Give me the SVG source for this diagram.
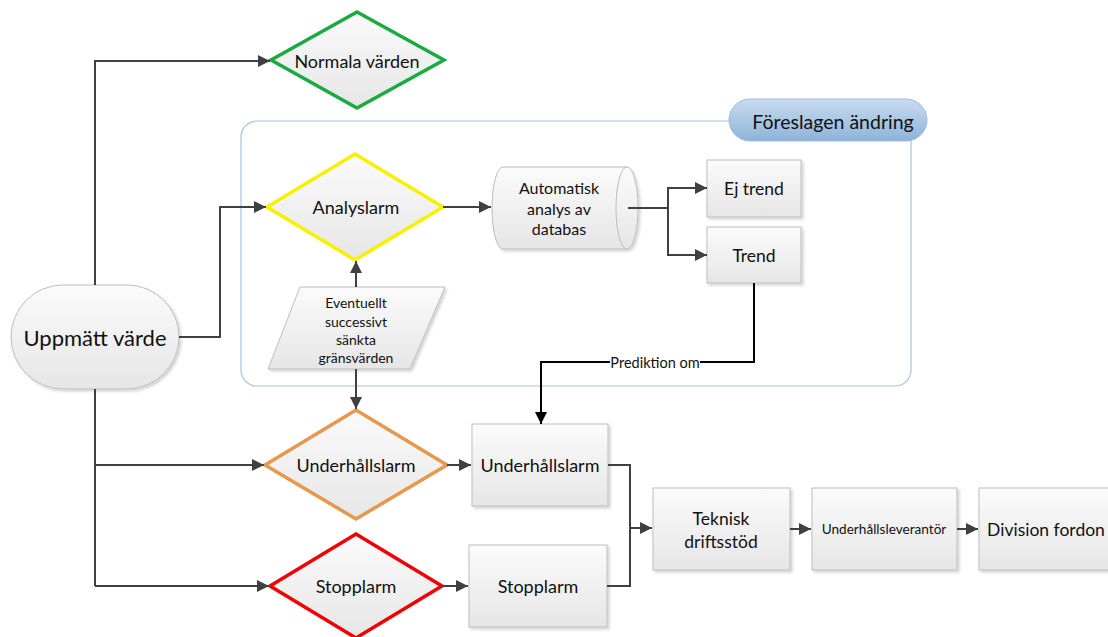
<svg xmlns="http://www.w3.org/2000/svg" width="1108" height="637" viewBox="0 0 1108 637">
<defs>
<linearGradient id="gBox" x1="0" y1="0" x2="0" y2="1"><stop offset="0" stop-color="#fbfbfb"/><stop offset="1" stop-color="#e6e6e6"/></linearGradient>
<linearGradient id="gPill" x1="0" y1="0" x2="0" y2="1"><stop offset="0" stop-color="#c9dcef"/><stop offset="1" stop-color="#8db3d9"/></linearGradient>
<filter id="sh" x="-10%" y="-10%" width="130%" height="130%"><feDropShadow dx="2" dy="2" stdDeviation="1.5" flood-color="#000" flood-opacity="0.18"/></filter>
<marker id="ah" viewBox="0 0 10 10" refX="10" refY="5" markerWidth="12" markerHeight="12" markerUnits="userSpaceOnUse" orient="auto"><path d="M0,0 L10,5 L0,10 Z" fill="#404040"/></marker>
<marker id="ahb" viewBox="0 0 10 10" refX="10" refY="5" markerWidth="12" markerHeight="12" markerUnits="userSpaceOnUse" orient="auto"><path d="M0,0 L10,5 L0,10 Z" fill="#000"/></marker>
</defs>
<style>
.box{fill:url(#gBox);stroke:#bdbdbd;stroke-width:1;filter:url(#sh)}
.dia{fill:url(#gBox);stroke-width:3.5;stroke-linejoin:miter}
.t{font-family:Lato,"Liberation Sans",sans-serif;fill:#111;text-anchor:middle;dominant-baseline:central}
.c{fill:none;stroke:#404040;stroke-width:2;marker-end:url(#ah)}
.cn{fill:none;stroke:#404040;stroke-width:2}
</style>
<rect width="1108" height="637" fill="#fff"/>

<g id="container">
<rect x="241" y="121" width="670" height="265" rx="16" fill="none" stroke="#a9c3dc" stroke-width="1.2"/>
<rect x="729" y="99" width="198" height="42" rx="21" fill="url(#gPill)" stroke="#9cbcdc" stroke-width="1"/>
<text class="t" x="833" y="121" font-size="19.5">Föreslagen ändring</text>
</g>

<g id="normala">
<polygon class="dia" points="357,12 444,60 357,108 271,60" stroke="#1aab40"/>
<text class="t" x="357" y="61" font-size="18">Normala värden</text>
</g>

<g id="analyslarm">
<polygon class="dia" points="355,154 443,207 355,260 267,207" stroke="#f7f000"/>
<text class="t" x="356" y="207" font-size="18">Analyslarm</text>
</g>

<g id="automatisk">
<path class="box" d="M503,167 H627 A11,41 0 0 1 627,249 H503 A11,41 0 0 1 503,167 Z"/>
<path d="M627,167 A11,41 0 0 0 627,249" fill="none" stroke="#bdbdbd" stroke-width="1"/>
<text class="t" font-size="16"><tspan x="559" y="187">Automatisk</tspan><tspan x="559" y="208">analys av</tspan><tspan x="559" y="228">databas</tspan></text>
</g>

<g id="ejtrend">
<rect class="box" x="707" y="160" width="94" height="57"/>
<text class="t" x="754" y="188" font-size="17.5">Ej trend</text>
</g>

<g id="trend">
<rect class="box" x="707" y="227" width="94" height="56"/>
<text class="t" x="754" y="255" font-size="17.5">Trend</text>
</g>

<g id="uppmatt">
<rect class="box" x="11" y="285" width="168" height="104" rx="52"/>
<text class="t" x="95" y="337" font-size="22">Uppmätt värde</text>
</g>

<g id="eventuellt">
<polygon class="box" points="300,287 445,287 410,369 268,369"/>
<text class="t" font-size="14"><tspan x="356" y="302">Eventuellt</tspan><tspan x="356" y="321">successivt</tspan><tspan x="356" y="339">sänkta</tspan><tspan x="356" y="357">gränsvärden</tspan></text>
</g>

<g id="underhallslarm-dia">
<polygon class="dia" points="356,410 447,465 356,519 265,465" stroke="#e8974e"/>
<text class="t" x="356" y="465" font-size="18">Underhållslarm</text>
</g>

<g id="stopplarm-dia">
<polygon class="dia" points="356,534 442,586 356,638 270,586" stroke="#f00000"/>
<text class="t" x="356" y="586" font-size="18">Stopplarm</text>
</g>

<g id="underhallslarm-box">
<rect class="box" x="472" y="424" width="136" height="82"/>
<text class="t" x="540" y="465" font-size="18">Underhållslarm</text>
</g>

<g id="stopplarm-box">
<rect class="box" x="469" y="545" width="138" height="82"/>
<text class="t" x="538" y="586" font-size="18">Stopplarm</text>
</g>

<g id="teknisk">
<rect class="box" x="653" y="488" width="137" height="82"/>
<text class="t" font-size="17.5"><tspan x="721" y="518">Teknisk</tspan><tspan x="721" y="541">driftsstöd</tspan></text>
</g>

<g id="underhallsleverantor">
<rect class="box" x="812" y="488" width="145" height="82"/>
<text class="t" x="884" y="529" font-size="13.6">Underhållsleverantör</text>
</g>

<g id="division">
<rect class="box" x="979" y="488" width="140" height="82"/>
<text class="t" x="1046" y="529" font-size="17.5">Division fordon</text>
</g>

<g id="connectors">
<path class="c" d="M95,285 V61 H270"/>
<path class="c" d="M179,337 H220 V207 H266"/>
<path class="c" d="M443,207 H491"/>
<path class="cn" d="M628,208 H668"/>
<path class="c" d="M668,208 V188 H707"/>
<path class="c" d="M668,208 V255 H707"/>
<path class="c" d="M356,287 V261"/>
<path class="c" d="M356,369 V409"/>
<path fill="none" stroke="#000" stroke-width="2" marker-end="url(#ahb)" d="M754,283 V362 H541 V424"/>
<rect x="610" y="353" width="90" height="18" fill="#fff"/>
<text class="t" x="655" y="362" font-size="14.5">Prediktion om</text>
<path class="cn" d="M95,389 V586"/>
<path class="c" d="M95,465 H264"/>
<path class="c" d="M95,586 H269"/>
<path class="c" d="M447,465 H471"/>
<path class="c" d="M442,586 H468"/>
<path class="cn" d="M608,465 H630 V586 H607"/>
<path class="c" d="M630,528 H652"/>
<path class="c" d="M790,529 H811"/>
<path class="c" d="M957,529 H978"/>
</g>
</svg>
